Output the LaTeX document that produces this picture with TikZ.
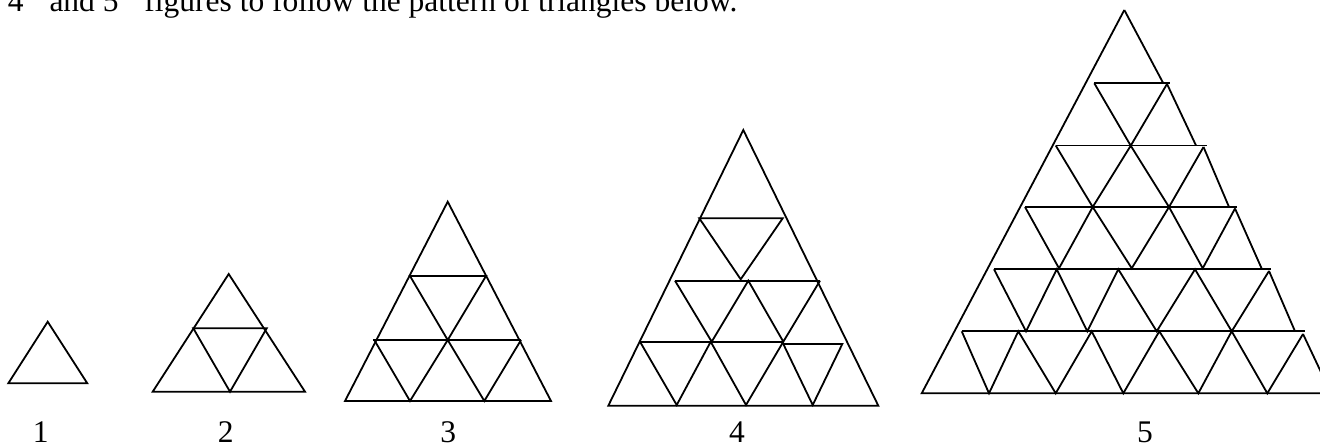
\documentclass[tikz,border=0pt]{standalone}
\usepackage{fontspec}
\setmainfont{Liberation Serif}
\begin{document}
\begin{tikzpicture}[x=0.5pt,y=-0.5pt,
  trl/.style={line width=0.9pt, line join=miter},
  lbl/.style={anchor=base, inner sep=0pt, font=\fontsize{15.75pt}{18pt}\selectfont}]
\clip (0,0) rectangle (1320,444);
% heading (its upper part lies above the picture, as in the reference)
\node[lbl, anchor=base west] (title) at (7.5,12) {4\hspace{9pt} and 5\hspace{9pt} figures to follow the pattern of triangles below.};
% Figure 1
\draw[trl] (47.7,321.7) -- (8.3,383.3) -- (87.3,383.3) -- cycle;
% Figure 2
\draw[trl] (228.7,274) -- (152.7,391.7) -- (305,391.7) -- cycle;
\draw[trl] (193.3,328.3) -- (266.7,328.3) -- (230,391.7) -- cycle;
% Figure 3
\draw[trl] (447.7,201.7) -- (345,401) -- (551,401) -- cycle;
\draw[trl] (410,276) -- (486,276) -- (447.7,340) -- cycle;
\draw[trl] (373.3,340) -- (521,340);
\draw[trl] (374.3,340) -- (410,401) -- (447.7,340) -- (484.3,401) -- (521,340);
% Figure 4
\draw[trl] (743.3,130) -- (608.3,405.7) -- (878.3,405.7) -- cycle;
\draw[trl] (699.3,218.3) -- (782.7,218.3) -- (740.7,279.3) -- cycle;
\draw[trl] (675,280.7) -- (820,280.7);
\draw[trl] (675,280.7) -- (711.7,341.7) -- (748.3,280.7) -- (783.3,341.7) -- (820,280.7);
\draw[trl] (640,341.7) -- (783.3,341.7);
\draw[trl] (640,341.7) -- (676.7,405) -- (710.7,341.7) -- (746,405) -- (783.3,341.7);
\draw[trl] (783.3,344) -- (842.3,344) -- (812.7,405) -- cycle;
% Figure 5
\draw[trl] (1124.3,10) -- (921.7,393.3) -- (1330,393.3);
\draw[trl] (1124.3,10) -- (1163.3,83.3);
\draw[trl] (1167,84) -- (1196,145.5);
\draw[trl] (1203.5,147) -- (1229,207);
\draw[trl] (1235,208.5) -- (1262,269.3);
\draw[trl] (1269,271) -- (1295,331.3);
\draw[trl] (1303,334) -- (1331,393.3);
\draw[trl] (1094.3,83.3) -- (1170,83.3);
\draw[trl] (1094.3,83.3) -- (1130.7,145.7) -- (1167,84);
\draw[trl] (1055.7,145.5) -- (1206.7,145.5);
\draw[trl] (1055.7,145.5) -- (1092.7,207) -- (1130.7,145.7) -- (1169,207) -- (1203.5,147);
\draw[trl] (1025,207) -- (1236.7,207);
\draw[trl] (1025,207) -- (1059,268.3) -- (1092.7,207) -- (1131.7,268.3) -- (1169,207) -- (1202.7,268.3) -- (1235,208.5);
\draw[trl] (994,269.3) -- (1270.7,269.3);
\draw[trl] (994,269.3) -- (1026,331.3) -- (1056.7,269.3) -- (1087.3,331.3) -- (1118.3,269.3) -- (1156.7,331.3) -- (1195,269.3) -- (1231.7,331.3) -- (1269,271);
\draw[trl] (961.7,331.3) -- (1305.3,331.3);
\draw[trl] (961.7,331.3) -- (989,393.3) -- (1018.3,331.3) -- (1055.7,393.3) -- (1091.7,331.3) -- (1123.3,393.3) -- (1159.3,331.3) -- (1198.3,393.3) -- (1231.7,331.3) -- (1267.3,393.3) -- (1303,334);
% labels
\node[lbl] (n1) at (40.8,442.5) {1};
\node[lbl] (n2) at (225.8,442.5) {2};
\node[lbl] (n3) at (448.3,442.5) {3};
\node[lbl] (n4) at (737,442.5) {4};
\node[lbl] (n5) at (1145,442.5) {5};
\end{tikzpicture}
\end{document}
